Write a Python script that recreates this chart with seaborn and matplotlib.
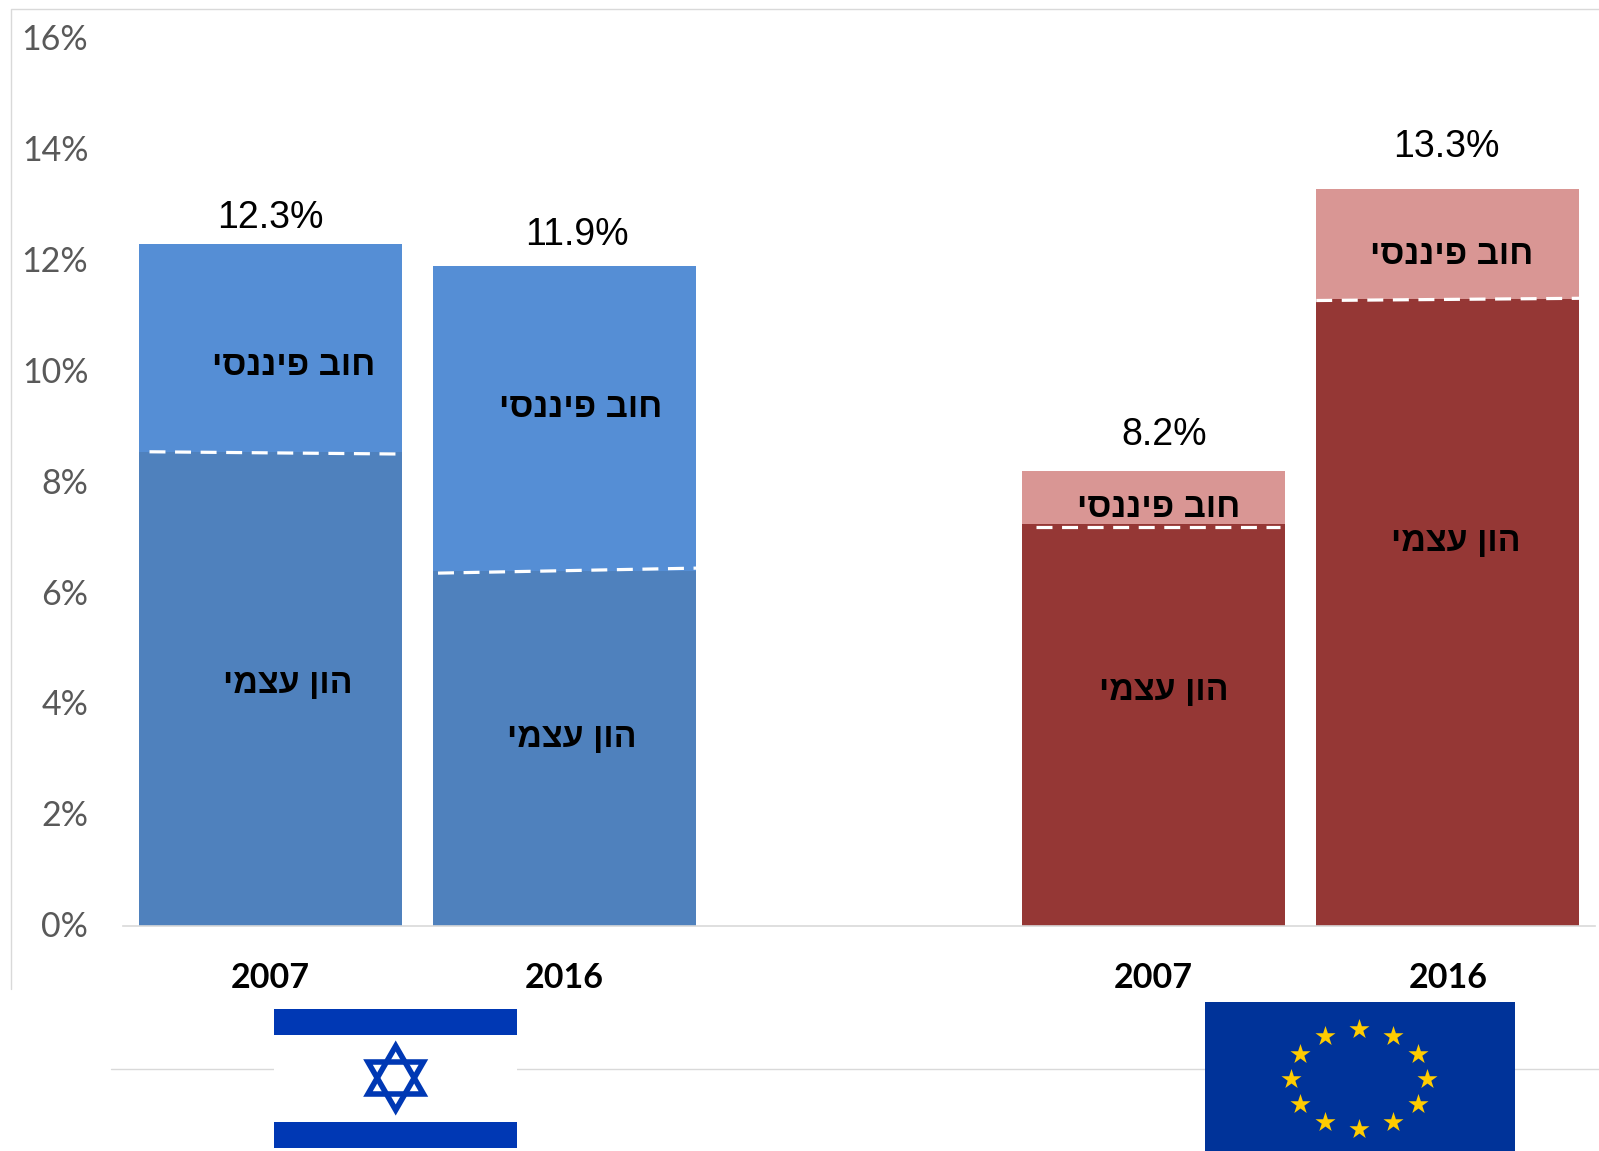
import numpy as np
import pandas as pd
import matplotlib
matplotlib.use("Agg")
import matplotlib.pyplot as plt
from matplotlib.patches import Rectangle, Polygon
from matplotlib.transforms import ScaledTranslation
import seaborn as sns

# data, the empty category is the gap between the two groups
categories = ["IL 2007", "IL 2016", "gap", "EU 2007", "EU 2016"]
years = ["2007", "2016", "", "2007", "2016"]
total = [12.3, 11.9, np.nan, 8.2, 13.3]
equity = [8.55, 6.4, np.nan, 7.25, 11.3]
equity_line_left = [8.55, 6.36, np.nan, 7.2, 11.28]
equity_line_right = [8.51, 6.45, np.nan, 7.2, 11.32]
y_ticks = [0, 2, 4, 6, 8, 10, 12, 14, 16]
debt_label = "חוב פיננסי"
equity_label = "הון עצמי"

colors_light = ["#558ED5", "#558ED5", "#FFFFFF", "#D99694", "#D99694"]
colors_dark = ["#4F81BD", "#4F81BD", "#FFFFFF", "#953735", "#953735"]

W, H = 1599, 1151
sns.set_theme(style="white")
plt.rcParams["font.family"] = ["Liberation Sans", "DejaVu Sans"]

df = pd.DataFrame({"cat": categories, "total": total, "equity": equity})

fig = plt.figure(figsize=(W / 100, H / 100), dpi=100)
ax = fig.add_axes([123 / W, 1 - 925.5 / H, 1472 / W, 886.5 / H])

sns.barplot(data=df, x="cat", y="total", hue="cat", order=categories, hue_order=categories,
            palette=colors_light, width=0.893, dodge=False, legend=False, saturation=1,
            linewidth=0, ax=ax)
sns.barplot(data=df, x="cat", y="equity", hue="cat", order=categories, hue_order=categories,
            palette=colors_dark, width=0.893, dodge=False, legend=False, saturation=1,
            linewidth=0, ax=ax)

# dashed border between the two parts
line_left = [-0.41, -0.43, 0, -0.40, -0.447]
line_right = [0.43, 0.447, 0, 0.43, 0.447]
for i in range(len(categories)):
    if np.isnan(equity[i]):
        continue
    ax.plot([i + line_left[i], i + line_right[i]], [equity_line_left[i], equity_line_right[i]],
            color="white", lw=2.3, dashes=(5, 3), dash_capstyle="butt")

ax.set_xlim(-0.5, 4.5)
ax.set_ylim(0, 16)
ax.set_xlabel("")
ax.set_ylabel("")
ax.set_yticks(y_ticks)
ax.set_yticklabels([f"{t}%" for t in y_ticks], fontsize=24.5, color="#595959", family="Lato")
ax.set_xticks(range(len(years)))
ax.set_xticklabels(years, fontsize=24.5, fontweight="bold", color="black", family="Lato")
ax.tick_params(axis="y", length=0, pad=25)
ax.tick_params(axis="x", length=0, pad=26)
for lab in ax.get_yticklabels():
    lab.set_transform(lab.get_transform() + ScaledTranslation(0, 1.5 / 100, fig.dpi_scale_trans))
sns.despine(ax=ax, left=True, top=True, right=True)
ax.spines["bottom"].set_color("#D9D9D9")
ax.spines["bottom"].set_linewidth(1.2)
ax.patch.set_alpha(0)

# overlay in pixel coordinates: frame, flags and the labels placed by hand
ov = fig.add_axes([0, 0, 1, 1], zorder=5)
ov.set_xlim(0, W)
ov.set_ylim(H, 0)
ov.axis("off")
ov.patch.set_alpha(0)

ov.plot([11, 11, W], [989, 8.5, 8.5], color="#D9D9D9", lw=1)
ov.plot([111, W], [1069, 1069], color="#D9D9D9", lw=1)

# Israel flag
ov.add_patch(Rectangle((274, 1008.5), 243, 140, fc="white", ec="none", zorder=3))
for top in [1008.5, 1122]:
    ov.add_patch(Rectangle((274, top), 243, 26, fc="#0038B4", ec="none", zorder=4))
star_angles = np.deg2rad([90, 210, 330])
for flip in [1, -1]:
    pts = np.c_[395.7 + 32 * np.cos(star_angles), 1078 - flip * 32 * np.sin(star_angles)]
    ov.add_patch(Polygon(pts, closed=True, fill=False, ec="#0038B4", lw=4, zorder=4, joinstyle="miter"))

# EU flag
ov.add_patch(Rectangle((1205, 1001.5), 309.5, 150, fc="#003399", ec="none", zorder=3))
angles = np.deg2rad(np.arange(0, 360, 30))
ov.scatter(1359 + 68 * np.cos(angles), 1079 + 50 * np.sin(angles), marker="*", s=230,
           color="#FFCC00", linewidths=0, zorder=4)

# hand placed labels, matplotlib has no bidi so the hebrew is reversed for drawing
total_xy = [(270, 218), (577, 235), None, (1164.5, 435), (1446, 147)]
debt_xy = [(294, 366), (581, 408), None, (1159, 508), (1452, 255)]
equity_xy = [(288, 684), (572, 738), None, (1163.5, 691), (1456, 542.5)]
for i in range(len(categories)):
    if total_xy[i] is None:
        continue
    ov.text(*total_xy[i], f"{total[i]:.1f}%", ha="center", va="center", fontsize=27, color="black")
    ov.text(*debt_xy[i], debt_label[::-1], ha="center", va="center", fontsize=24.8, color="black",
            fontweight="bold")
    ov.text(*equity_xy[i], equity_label[::-1], ha="center", va="center", fontsize=24.5, color="black",
            fontweight="bold")

fig.savefig("out.png", dpi=100)
